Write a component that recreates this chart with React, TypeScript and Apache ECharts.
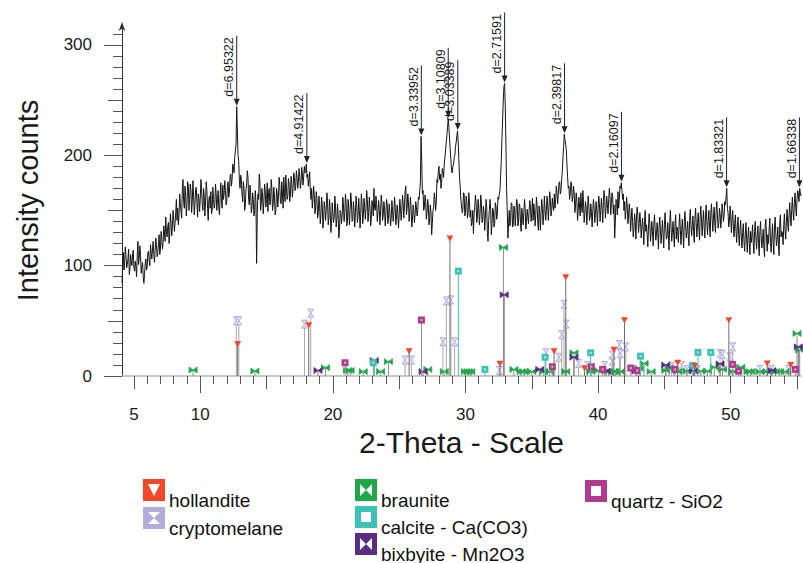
import React, { useEffect, useRef } from "react";
import * as echarts from "echarts";

const FONT = "'Liberation Sans', Arial, Helvetica, sans-serif";

// XRD scan: 2-theta from scanStart in steps of scanStep (one row = 1 degree)
const scanStart = 4.1;
const scanStep = 0.05;
const intensity: number[] = [
  84, 100, 112, 96, 104, 117, 109, 98, 101, 106, 115, 92, 97, 110, 104, 100, 111, 114, 98, 95,
  104, 99, 90, 110, 122, 101, 107, 118, 109, 93, 99, 103, 90, 84, 92, 102, 106, 96, 99, 112,
  113, 104, 100, 119, 112, 106, 115, 122, 110, 103, 114, 125, 118, 108, 112, 120, 128, 110, 116, 131,
  124, 115, 121, 136, 130, 122, 144, 131, 126, 135, 139, 120, 129, 147, 138, 127, 136, 150, 142, 131,
  138, 148, 160, 141, 152, 137, 146, 165, 156, 149, 143, 170, 178, 158, 152, 172, 163, 145, 155, 176,
  172, 150, 160, 174, 168, 148, 158, 177, 163, 146, 155, 169, 171, 157, 144, 165, 161, 149, 160, 178,
  170, 156, 150, 170, 163, 145, 158, 176, 168, 152, 141, 160, 163, 152, 167, 147, 150, 171, 160, 152,
  155, 174, 165, 150, 160, 168, 152, 146, 163, 175, 158, 152, 173, 160, 165, 177, 168, 155, 158, 172,
  176, 162, 166, 181, 183, 172, 178, 192, 190, 184, 198, 204, 210, 244, 222, 200, 195, 178, 170, 182,
  178, 165, 158, 176, 170, 150, 155, 169, 174, 186, 180, 160, 155, 173, 166, 148, 152, 166, 160, 145,
  150, 168, 158, 102, 148, 165, 160, 183, 176, 150, 156, 170, 163, 147, 158, 174, 168, 153, 160, 175,
  149, 166, 170, 155, 158, 178, 170, 150, 156, 171, 162, 146, 150, 170, 166, 153, 163, 180, 172, 157,
  156, 176, 165, 152, 180, 166, 158, 182, 171, 160, 163, 179, 174, 158, 165, 181, 175, 162, 170, 184,
  180, 168, 172, 186, 180, 170, 176, 188, 181, 170, 175, 189, 183, 173, 181, 190, 184, 186, 192, 180,
  183, 172, 178, 185, 168, 160, 170, 152, 160, 172, 164, 147, 153, 167, 160, 143, 148, 163, 155, 138,
  146, 162, 155, 134, 140, 158, 152, 141, 150, 166, 158, 137, 143, 160, 150, 130, 138, 157, 148, 139,
  144, 163, 154, 135, 142, 156, 146, 125, 132, 150, 148, 138, 145, 162, 154, 140, 148, 165, 157, 136,
  140, 160, 151, 137, 150, 166, 158, 140, 141, 158, 150, 135, 148, 163, 155, 139, 145, 161, 150, 134,
  147, 165, 157, 138, 146, 161, 153, 142, 152, 168, 160, 140, 148, 162, 152, 136, 143, 159, 155, 145,
  170, 152, 150, 163, 156, 140, 148, 159, 151, 137, 150, 164, 157, 141, 146, 158, 150, 136, 148, 160,
  155, 138, 145, 156, 148, 136, 143, 159, 150, 140, 148, 162, 154, 137, 144, 155, 147, 134, 146, 160,
  152, 141, 150, 164, 156, 143, 155, 168, 172, 146, 152, 165, 158, 140, 148, 162, 152, 135, 141, 155,
  150, 139, 146, 158, 153, 145, 150, 162, 160, 168, 175, 217, 195, 165, 168, 150, 153, 164, 158, 142,
  148, 160, 154, 137, 143, 155, 148, 128, 138, 150, 153, 166, 160, 150, 158, 178, 175, 185, 190, 178,
  183, 170, 174, 188, 186, 180, 192, 198, 205, 212, 218, 226, 233, 225, 215, 205, 196, 186, 184, 190,
  192, 198, 200, 208, 212, 218, 222, 212, 196, 180, 172, 160, 160, 148, 150, 166, 165, 145, 148, 163,
  158, 143, 148, 166, 158, 144, 150, 136, 140, 150, 129, 147, 153, 164, 157, 139, 145, 160, 152, 137,
  147, 164, 157, 139, 142, 154, 148, 132, 144, 160, 153, 130, 122, 141, 150, 160, 151, 128, 138, 152,
  150, 135, 138, 157, 154, 142, 146, 162, 160, 165, 168, 182, 195, 215, 232, 250, 262, 265, 245, 210,
  170, 150, 125, 138, 150, 136, 140, 157, 156, 135, 137, 154, 152, 136, 145, 160, 158, 136, 139, 156,
  154, 138, 131, 152, 146, 137, 148, 160, 152, 133, 140, 151, 145, 138, 150, 159, 153, 140, 148, 161,
  141, 156, 150, 136, 146, 162, 155, 139, 132, 154, 147, 132, 148, 160, 152, 137, 146, 163, 151, 141,
  150, 163, 155, 141, 153, 167, 160, 145, 150, 161, 154, 150, 165, 152, 160, 172, 166, 156, 165, 175,
  176, 165, 168, 178, 185, 198, 208, 219, 214, 210, 205, 192, 180, 170, 172, 160, 165, 176, 174, 158,
  162, 172, 165, 148, 155, 166, 158, 141, 150, 162, 154, 145, 166, 154, 148, 168, 157, 139, 147, 158,
  152, 137, 150, 163, 155, 141, 144, 156, 148, 135, 150, 160, 152, 139, 147, 158, 150, 136, 152, 163,
  156, 140, 150, 161, 152, 139, 158, 168, 160, 143, 152, 163, 155, 147, 160, 170, 162, 146, 156, 166,
  163, 147, 155, 125, 140, 160, 158, 146, 167, 152, 160, 172, 170, 175, 168, 160, 165, 150, 158, 142,
  150, 162, 153, 138, 146, 156, 148, 131, 142, 152, 140, 126, 133, 147, 140, 124, 145, 153, 144, 130,
  138, 148, 139, 125, 134, 143, 133, 119, 140, 150, 131, 137, 128, 117, 135, 147, 138, 122, 130, 140,
  131, 118, 136, 146, 134, 123, 128, 139, 130, 115, 135, 144, 132, 120, 130, 141, 128, 116, 137, 148,
  134, 124, 126, 139, 128, 114, 138, 150, 135, 122, 130, 140, 128, 117, 138, 146, 124, 135, 131, 121,
  135, 147, 133, 119, 132, 142, 130, 116, 140, 149, 136, 125, 131, 140, 127, 118, 141, 151, 137, 127,
  136, 145, 131, 121, 142, 152, 138, 126, 139, 148, 133, 123, 145, 154, 139, 127, 141, 150, 134, 125,
  145, 155, 140, 128, 140, 150, 136, 126, 148, 156, 142, 131, 144, 153, 138, 130, 150, 158, 145, 134,
  138, 152, 147, 134, 142, 156, 150, 140, 145, 158, 155, 162, 170, 152, 148, 135, 140, 154, 146, 130,
  142, 150, 135, 126, 138, 146, 131, 121, 136, 144, 128, 118, 133, 141, 125, 116, 130, 138, 122, 113,
  128, 139, 124, 112, 127, 135, 120, 110, 131, 121, 127, 137, 120, 111, 131, 140, 125, 115, 127, 136,
  120, 109, 131, 140, 125, 116, 124, 133, 117, 108, 137, 142, 126, 113, 128, 120, 134, 143, 121, 112,
  125, 138, 121, 110, 135, 144, 129, 118, 124, 135, 118, 109, 140, 146, 126, 131, 130, 119, 137, 147,
  131, 124, 140, 151, 138, 131, 146, 157, 143, 136, 151, 162, 148, 141, 157, 166, 153, 145, 160, 168,
  165, 158, 170, 166, 163,
];

// axis ticks and labels
const xLabelValues = [5, 10, 20, 30, 40, 50];
const xMajorTicks = [10, 20, 30, 40, 50];
const xMidTicks = [5, 15, 25, 35, 45, 55];
const xMinorTicks = [
  6, 7, 8, 9, 11, 12, 13, 14, 16, 17, 18, 19, 21, 22, 23, 24, 26, 27, 28, 29,
  31, 32, 33, 34, 36, 37, 38, 39, 41, 42, 43, 44, 46, 47, 48, 49, 51, 52, 53, 54,
];
const yLabelValues = [0, 100, 200, 300];
const yMidTicks = [50, 150, 250];
const yMinorTicks = [
  10, 20, 30, 40, 60, 70, 80, 90, 110, 120, 130, 140, 160, 170, 180, 190,
  210, 220, 230, 240, 260, 270, 280, 290, 310,
];

// labelled peaks
const peakTheta = [12.75, 18.04, 26.67, 28.7, 29.42, 32.95, 37.47, 41.76, 49.69, 55.18];
const peakIntensity = [244, 192, 217, 233, 222, 265, 219, 175, 170, 170];
const peakLabels = [
  "d=6.95322", "d=4.91422", "d=3.33952", "d=3.10809", "d=3.03389",
  "d=2.71591", "d=2.39817", "d=2.16097", "d=1.83321", "d=1.66338",
];

// reference stick patterns [2theta, intensity]
const hollandite = [
  [12.82, 29], [18.18, 46], [25.75, 22.5], [28.83, 124.6], [32.6, 11], [36.68, 22.5],
  [37.56, 89.5], [38.98, 7], [41.19, 23.7], [41.99, 50.5], [46.0, 12], [47.28, 9],
  [49.86, 50.5], [52.75, 11.4], [54.52, 10],
];
const cryptomelane = [
  [12.72, 50], [12.91, 50], [17.86, 47], [18.33, 57], [25.45, 14.5], [25.92, 14.5],
  [28.3, 31], [28.56, 68], [28.9, 69], [29.18, 31], [32.55, 5], [36.07, 21], [37.03, 17],
  [37.26, 37.5], [37.43, 65], [37.6, 47], [38.53, 11.4], [39.2, 9.6], [40.5, 9.6],
  [41.04, 13.5], [41.1, 19], [41.6, 28.5], [41.68, 20.4], [42.09, 26.4], [45.55, 9],
  [46.3, 9.6], [46.7, 6], [47.5, 6], [49.2, 20.4], [49.38, 19.5], [49.94, 17.4],
  [50.16, 26.4], [52.2, 6], [53.07, 6], [54.37, 6],
];
const braunite = [
  [9.46, 5.4], [14.12, 4.5], [19.44, 7.5], [21.1, 5], [21.3, 5], [22.29, 4], [23.6, 4],
  [24.19, 13], [27.16, 6], [28.4, 4], [30.0, 4], [30.2, 4], [30.4, 4], [32.86, 116.5],
  [33.65, 6], [34.2, 4], [34.4, 4], [35.0, 4], [35.9, 4], [36.35, 4], [37.56, 4],
  [38.18, 21], [39.44, 4], [40.04, 5], [40.8, 4], [41.17, 4], [41.3, 4], [41.68, 4],
  [43.1, 7], [43.47, 11.4], [44.0, 4], [45.1, 5], [45.35, 7.5], [46.0, 4], [46.7, 4.5],
  [47.75, 4.5], [48.25, 4.5], [48.76, 8], [49.38, 6], [50.16, 4], [50.76, 8], [51.3, 4],
  [51.5, 4], [52.2, 4], [52.75, 4], [53.37, 4], [53.67, 4], [54.1, 4], [55.0, 38.5],
  [55.2, 23.5],
];
const calcite = [
  [23.05, 12], [29.46, 95], [31.47, 6], [36.0, 17], [39.44, 21], [43.2, 18],
  [47.13, 9.6], [47.53, 21.4], [48.5, 21.4],
];
const bixbyite = [
  [18.88, 5], [23.12, 14], [26.8, 4], [32.92, 73.6], [35.6, 6], [38.18, 17],
  [40.6, 4.5], [42.85, 4.5], [45.1, 10], [47.2, 5], [49.2, 11], [53.1, 5], [55.1, 26.4],
];
const quartz = [
  [20.92, 12], [26.68, 50.7], [36.55, 8.4], [39.49, 8.4], [40.34, 6], [42.47, 7.2],
  [42.95, 5], [45.8, 6], [50.14, 10.5], [50.6, 4.5], [54.87, 6],
];

const C_HOL = "#f2472b";
const C_CRY = "#b3acd8";
const C_BRA = "#1fa84a";
const C_CAL = "#3ec1b6";
const C_BIX = "#5b2c83";
const C_QTZ = "#b23a8c";

type MarkFn = (x: number, y: number) => any[];

const triangleMark = (c: string): MarkFn => (x, y) => [
  { type: "polygon", shape: { points: [[x - 3.5, y - 3], [x + 3.5, y - 3], [x, y + 3]] }, style: { fill: c } },
];
const hourglassMark = (c: string): MarkFn => (x, y) => [
  {
    type: "polygon",
    shape: { points: [[x - 3, y - 4], [x + 3, y - 4], [x - 3, y + 4], [x + 3, y + 4]] },
    style: { fill: "#e4e0f4", stroke: c, lineWidth: 1 },
  },
];
const bowtieMark = (c: string): MarkFn => (x, y) => [
  {
    type: "polygon",
    shape: { points: [[x - 4, y - 3], [x - 4, y + 3], [x + 4, y - 3], [x + 4, y + 3]] },
    style: { fill: c, stroke: c, lineWidth: 0.8 },
  },
];
const squareMark = (c: string): MarkFn => (x, y) => [
  { type: "rect", shape: { x: x - 3.5, y: y - 3.5, width: 7, height: 7 }, style: { fill: c } },
  { type: "rect", shape: { x: x - 1, y: y - 1, width: 2, height: 2 }, style: { fill: "rgba(255,255,255,0.6)" } },
];

function stickSeries(name: string, data: number[][], lineColor: string, mark: MarkFn) {
  return {
    type: "custom",
    name,
    data,
    clip: false,
    silent: true,
    z: 2,
    encode: { x: 0, y: 1 },
    renderItem: (_p: any, api: any) => {
      const t = api.value(0);
      const v = api.value(1);
      const top = api.coord([t, v]);
      const base = api.coord([t, 0]);
      return {
        type: "group",
        children: [
          {
            type: "line",
            shape: { x1: top[0], y1: base[1], x2: top[0], y2: top[1] },
            style: { stroke: lineColor, lineWidth: 1 },
          },
          ...mark(top[0], top[1]),
        ],
      };
    },
  };
}

function legendItem(x: number, y: number, color: string, kind: string, label: string) {
  const s = 22;
  const inner: any[] = [];
  if (kind === "tri") {
    inner.push({ type: "polygon", shape: { points: [[x + 5, y + 5], [x + 17, y + 5], [x + 11, y + 17]] }, style: { fill: "#fff" } });
  } else if (kind === "hour") {
    inner.push({ type: "polygon", shape: { points: [[x + 5, y + 5], [x + 17, y + 5], [x + 5, y + 17], [x + 17, y + 17]] }, style: { fill: "#fff" } });
  } else if (kind === "bow") {
    inner.push({ type: "polygon", shape: { points: [[x + 5, y + 5], [x + 5, y + 17], [x + 17, y + 5], [x + 17, y + 17]] }, style: { fill: "#fff" } });
  } else {
    inner.push({ type: "rect", shape: { x: x + 6, y: y + 6, width: 10, height: 10 }, style: { fill: "#fff" } });
  }
  return [
    { type: "rect", shape: { x, y, width: s, height: s }, style: { fill: color } },
    ...inner,
    {
      type: "text",
      x: x + s + 4,
      y: y + 21,
      style: { text: label, font: `19px ${FONT}`, fill: "#111", verticalAlign: "middle", align: "left" },
    },
  ];
}

export default function App() {
  const ref = useRef<HTMLDivElement>(null);
  useEffect(() => {
    if (!ref.current) return;
    const chart = echarts.init(ref.current, undefined, { renderer: "svg" });
    const lineData = intensity.map((v, i) => [Number((scanStart + i * scanStep).toFixed(2)), v]);
    const peakData = peakTheta.map((t, i) => [t, peakIntensity[i]]);

    const xMin = 4.1;
    const xMax = 55.3;
    const yMin = 0;
    const yMax = 318;
    const tickColor = "#555";

    const option: any = {
      animation: false,
      backgroundColor: "#fff",
      grid: { left: 122, right: 2, top: 25, bottom: 187, containLabel: false },
      xAxis: [
        {
          type: "value",
          min: xMin,
          max: xMax,
          position: "bottom",
          axisLine: { show: true, lineStyle: { color: "#b5b5b5", width: 1.5 } },
          axisTick: { show: true, length: 17, customValues: xMajorTicks, lineStyle: { color: tickColor } },
          axisLabel: { customValues: xLabelValues, margin: 30, fontSize: 17, color: "#1a1a1a", fontFamily: FONT },
          splitLine: { show: false },
          name: "2-Theta - Scale",
          nameLocation: "middle",
          nameGap: 50,
          nameTextStyle: { fontSize: 30, color: "#1a1a1a", fontFamily: FONT },
        },
        {
          type: "value",
          min: xMin,
          max: xMax,
          position: "bottom",
          axisLine: { show: false },
          axisTick: { show: true, length: 13, customValues: xMidTicks, lineStyle: { color: tickColor } },
          axisLabel: { show: false },
          splitLine: { show: false },
        },
        {
          type: "value",
          min: xMin,
          max: xMax,
          position: "bottom",
          axisLine: { show: false },
          axisTick: { show: true, length: 8, customValues: xMinorTicks, lineStyle: { color: tickColor } },
          axisLabel: { show: false },
          splitLine: { show: false },
        },
      ],
      yAxis: [
        {
          type: "value",
          min: yMin,
          max: yMax,
          position: "left",
          axisLine: { show: true, symbol: ["none", "arrow"], symbolSize: [5, 9], symbolOffset: [0, 3], lineStyle: { color: "#333", width: 1 } },
          axisTick: { show: true, length: 18, customValues: yLabelValues, lineStyle: { color: tickColor } },
          axisLabel: { customValues: yLabelValues, margin: 30, fontSize: 17, color: "#1a1a1a", fontFamily: FONT },
          splitLine: { show: false },
          name: "Intensity counts",
          nameLocation: "middle",
          nameGap: 80,
          nameTextStyle: { fontSize: 29, color: "#1a1a1a", fontFamily: FONT },
        },
        {
          type: "value",
          min: yMin,
          max: yMax,
          position: "left",
          axisLine: { show: false },
          axisTick: { show: true, length: 14, customValues: yMidTicks, lineStyle: { color: tickColor } },
          axisLabel: { show: false },
          splitLine: { show: false },
        },
        {
          type: "value",
          min: yMin,
          max: yMax,
          position: "left",
          axisLine: { show: false },
          axisTick: { show: true, length: 9, customValues: yMinorTicks, lineStyle: { color: tickColor } },
          axisLabel: { show: false },
          splitLine: { show: false },
        },
      ],
      series: [
        stickSeries("cryptomelane", cryptomelane, "#a8a8a8", hourglassMark(C_CRY)),
        stickSeries("braunite", braunite, "#8c8c8c", bowtieMark(C_BRA)),
        stickSeries("bixbyite - Mn2O3", bixbyite, "#7a7a7a", bowtieMark(C_BIX)),
        stickSeries("quartz - SiO2", quartz, "#909090", squareMark(C_QTZ)),
        stickSeries("calcite - Ca(CO3)", calcite, "#52b8b0", squareMark(C_CAL)),
        stickSeries("hollandite", hollandite, "#6e6e6e", triangleMark(C_HOL)),
        {
          type: "line",
          name: "scan",
          data: lineData,
          showSymbol: false,
          symbol: "none",
          z: 3,
          lineStyle: { color: "#141414", width: 1 },
        },
        {
          type: "custom",
          name: "peaks",
          data: peakData,
          clip: false,
          silent: true,
          z: 4,
          encode: { x: 0, y: 1 },
          renderItem: (params: any, api: any) => {
            const p = api.coord([api.value(0), api.value(1)]);
            const label = peakLabels[params.dataIndex];
            return {
              type: "group",
              children: [
                { type: "line", shape: { x1: p[0], y1: p[1] - 71, x2: p[0], y2: p[1] - 3 }, style: { stroke: "#222", lineWidth: 1 } },
                { type: "polygon", shape: { points: [[p[0] - 3, p[1] - 8], [p[0] + 3, p[1] - 8], [p[0], p[1] - 1]] }, style: { fill: "#222" } },
                {
                  type: "text",
                  x: p[0] - 1,
                  y: p[1] - 10,
                  rotation: Math.PI / 2,
                  style: { text: label, font: `12.5px ${FONT}`, fill: "#1a1a1a", align: "left", verticalAlign: "bottom" },
                },
              ],
            };
          },
        },
      ],
      graphic: [
        ...legendItem(143, 479, C_HOL, "tri", "hollandite"),
        ...legendItem(143, 507, C_CRY, "hour", "cryptomelane"),
        ...legendItem(355, 479, C_BRA, "bow", "braunite"),
        ...legendItem(355, 506, C_CAL, "sq", "calcite - Ca(CO3)"),
        ...legendItem(355, 533, C_BIX, "bow", "bixbyite - Mn2O3"),
        ...legendItem(585, 480, C_QTZ, "sq", "quartz - SiO2"),
      ],
    };
    chart.setOption(option);
    return () => chart.dispose();
  }, []);
  return <div ref={ref} style={{ position: "fixed", left: 0, top: 0, width: 803, height: 563 }} />;
}
